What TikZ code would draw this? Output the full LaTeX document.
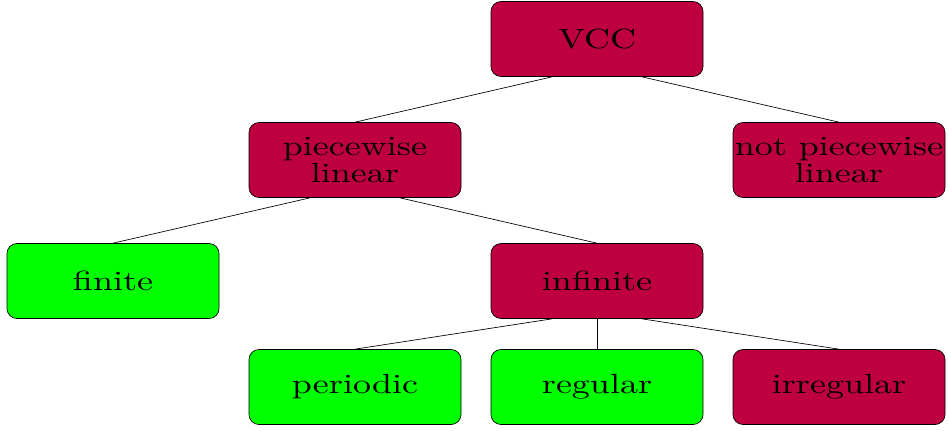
\documentclass[tikz,border=0pt]{standalone}
\usepackage{graphicx}
\newcommand\hsx[1]{\scalebox{2.7}[2.08]{\fontsize{10}{12}\selectfont #1}}
\begin{document}
\begin{tikzpicture}[x=0.75pt,y=-0.75pt,
  box/.style={draw=black, line width=0.5pt, rounded corners=7.5pt,
    minimum width=159pt, minimum height=56.25pt, inner sep=0pt,
    align=center, font=\fontsize{20}{20.25}\selectfont},
  bad/.style={box, fill=purple},
  good/.style={box, fill=green},
  link/.style={draw=black, line width=0.5pt}]
\useasboundingbox (0,0) rectangle (948,430);
\node[bad]  (vcc)  at (597,39)  {\hsx{VCC}};
\node[bad]  (pw)   at (355,160) {\hsx{piecewise}\\\hsx{linear}};
\node[bad]  (npw)  at (839,160) {\hsx{not piecewise}\\\hsx{linear}};
\node[good] (fin)  at (113,281) {\hsx{finite}};
\node[bad]  (inf)  at (597,281) {\hsx{infinite}};
\node[good] (per)  at (355,387) {\hsx{periodic}};
\node[good] (reg)  at (597,387) {\hsx{regular}};
\node[bad]  (irr)  at (839,387) {\hsx{irregular}};
\draw[link] ([xshift=-33.75pt]vcc.south) -- (pw.north);
\draw[link] ([xshift=33.75pt]vcc.south) -- (npw.north);
\draw[link] ([xshift=-33.75pt]pw.south) -- (fin.north);
\draw[link] ([xshift=33.75pt]pw.south) -- (inf.north);
\draw[link] ([xshift=-33.75pt]inf.south) -- (per.north);
\draw[link] (inf.south) -- (reg.north);
\draw[link] ([xshift=33.75pt]inf.south) -- (irr.north);
\end{tikzpicture}
\end{document}
